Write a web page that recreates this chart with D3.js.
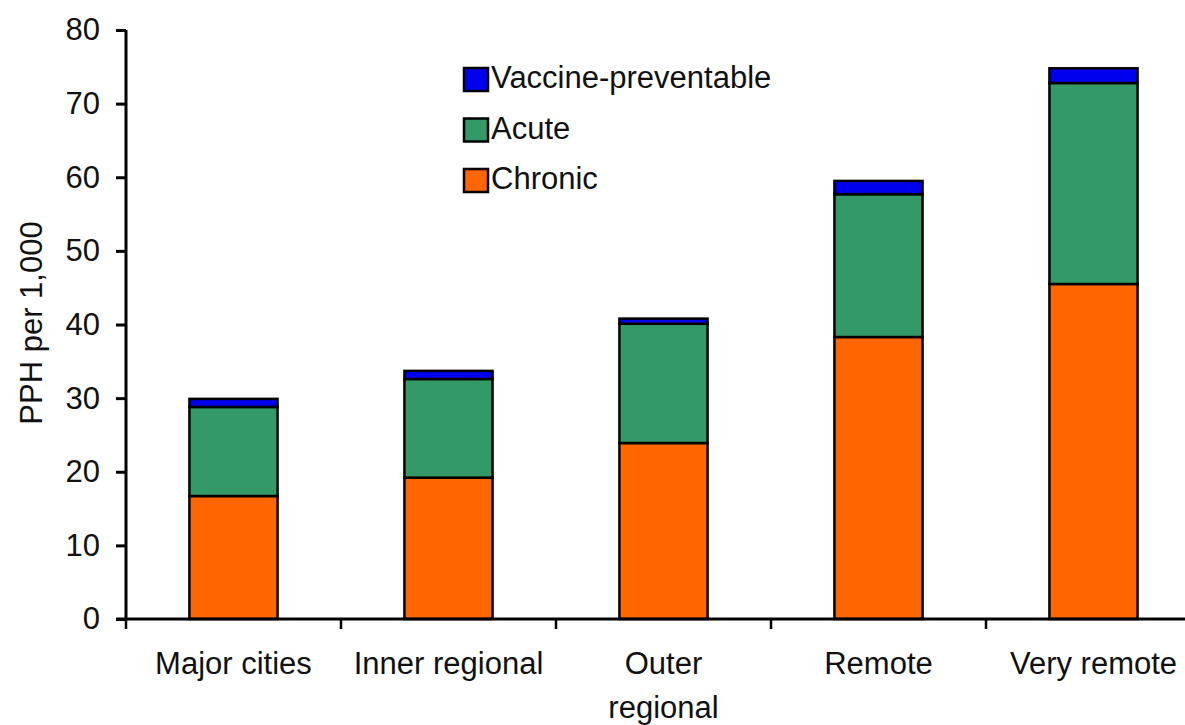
<!DOCTYPE html>
<html><head><meta charset="utf-8">
<script src="https://cdn.jsdelivr.net/npm/d3@7"></script>
<style>body{margin:0;background:#fff;} text{font-family:"Liberation Sans",Arial,sans-serif;fill:#111;}</style>
</head><body>
<svg id="c" width="1185" height="725"></svg>
<script>
const categories = ["Major cities","Inner regional","Outer regional","Remote","Very remote"];
const categoryLines = [["Major cities"],["Inner regional"],["Outer","regional"],["Remote"],["Very remote"]];
const chronic = [16.7, 19.2, 23.9, 38.3, 45.5];
const acute = [12.1, 13.4, 16.2, 19.4, 27.3];
const vaccine = [1.1, 1.1, 0.7, 1.8, 2.0];
const seriesNames = ["Chronic","Acute","Vaccine-preventable"];
const seriesColors = ["#FF6600","#339966","#0000EE"];
const yTicks = [0,10,20,30,40,50,60,70,80];
const yTitle = "PPH per 1,000";

const svg = d3.select("#c");
const x = d3.scaleBand().domain(categories).range([126, 1201]).paddingInner(0.59).paddingOuter(0.295);
const y = d3.scaleLinear().domain([0,80]).range([619, 30]);

const table = categories.map((c,i)=>({cat:c, Chronic:chronic[i], Acute:acute[i], "Vaccine-preventable":vaccine[i]}));
const stacked = d3.stack().keys(seriesNames)(table);

svg.append("g").selectAll("g").data(stacked).join("g")
  .attr("fill",(d,i)=>seriesColors[i])
  .selectAll("rect").data(d=>d).join("rect")
  .attr("x",d=>x(d.data.cat)).attr("width",x.bandwidth())
  .attr("y",d=>y(d[1])).attr("height",d=>y(d[0])-y(d[1]))
  .attr("stroke","#000").attr("stroke-width",2.5);

// y axis
const ya = svg.append("g").attr("transform","translate(126,0)")
  .call(d3.axisLeft(y).tickValues(yTicks).tickSize(10).tickPadding(16).tickFormat(d3.format("d")));
ya.select(".domain").attr("stroke-width",3).attr("d","M0,"+y(80)+"V"+y(0));
ya.selectAll(".tick line").attr("stroke-width",3);
ya.selectAll(".tick text").attr("font-size",31).attr("font-family","Liberation Sans, Arial, sans-serif").attr("fill","#111");

// x axis
const xa = svg.append("g").attr("transform","translate(0,619)");
xa.append("line").attr("x1",116).attr("x2",1185).attr("y1",0).attr("y2",0).attr("stroke","#000").attr("stroke-width",3);
const bounds = categories.map(c=>x(c)-x.step()*x.paddingInner()/2);
bounds.push(1201);
xa.selectAll(".xt").data(bounds).join("line").attr("class","xt")
  .attr("x1",d=>d).attr("x2",d=>d).attr("y1",0).attr("y2",10).attr("stroke","#000").attr("stroke-width",2.5);
xa.selectAll(".xl").data(categories).join("text").attr("class","xl")
  .attr("text-anchor","middle").attr("font-size",31)
  .each(function(d,i){
    const t=d3.select(this);
    categoryLines[i].forEach((ln,j)=>t.append("tspan").attr("x",x(d)+x.bandwidth()/2).attr("y",55+j*44).text(ln));
  });

// y title
svg.append("text").attr("transform","translate(42,323) rotate(-90)").attr("text-anchor","middle")
  .attr("font-size",31).text(yTitle);

// legend
const legendOrder = [2,1,0];
const lg = svg.append("g");
legendOrder.forEach((si,k)=>{
  const yy = 68 + k*50.5;
  lg.append("rect").attr("x",464).attr("y",yy).attr("width",24).attr("height",23)
    .attr("fill",seriesColors[si]).attr("stroke","#000").attr("stroke-width",2.5);
  lg.append("text").attr("x",491).attr("y",yy+20).attr("font-size",31).text(seriesNames[si]);
});
</script>
</body></html>
